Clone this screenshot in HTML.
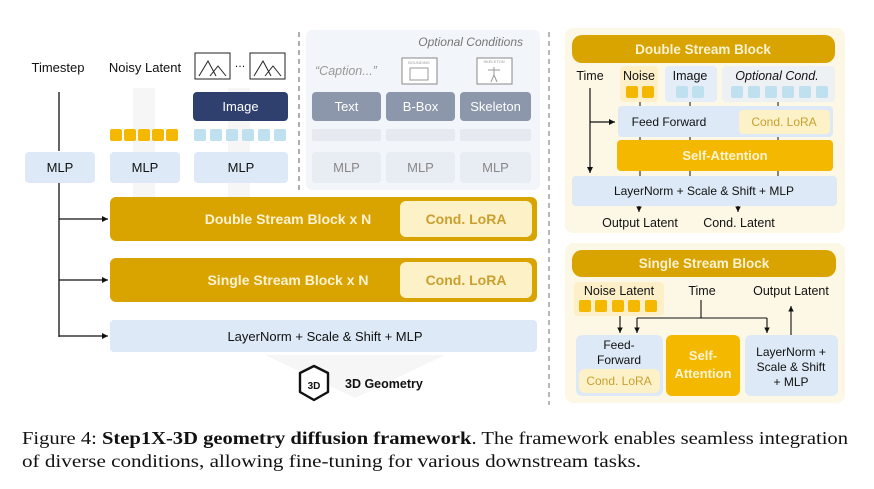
<!DOCTYPE html>
<html><head><meta charset="utf-8"><style>
html,body{margin:0;padding:0;background:#fff;}
svg{display:block;}
text{font-family:"Liberation Sans",sans-serif;}
text.cap{font-family:"Liberation Serif",serif;}
</style></head><body>
<svg width="874" height="489" viewBox="0 0 874 489" xmlns="http://www.w3.org/2000/svg">
<defs>
<marker id="ah" markerWidth="6" markerHeight="6" refX="5" refY="3" orient="auto"><path d="M0,0.5 L5,3 L0,5.5z" fill="#111"/></marker>
</defs>
<!-- faint background arrows -->
<g fill="#f6f6f6">
<rect x="133" y="88" width="22" height="110"/><rect x="228" y="88" width="22" height="110"/>
<path d="M265,355 L445,355 L355,398 z"/>
</g>
<!-- optional conditions panel -->
<rect x="306" y="30" width="234" height="160" rx="6" fill="#f2f5f9"/>
<text x="523" y="46" font-size="12" font-style="italic" fill="#777" text-anchor="end">Optional Conditions</text>
<line x1="299" y1="32" x2="299" y2="190" stroke="#777" stroke-width="1.2" stroke-dasharray="5,4"/>
<line x1="549" y1="32" x2="549" y2="405" stroke="#888" stroke-width="1.2" stroke-dasharray="5,4"/>

<!-- top labels -->
<text x="58" y="72" font-size="13" text-anchor="middle" fill="#111">Timestep</text>
<text x="145" y="72" font-size="13" text-anchor="middle" fill="#111">Noisy Latent</text>
<g fill="#fff" stroke="#222" stroke-width="1">
<rect x="195" y="53" width="35" height="26"/><rect x="250" y="53" width="35" height="26"/>
</g>
<path d="M199,76 L208,61 L216,76 M210,76 L218,66 L226,76" fill="none" stroke="#222"/>
<path d="M254,76 L263,61 L271,76 M265,76 L273,66 L281,76" fill="none" stroke="#222"/>
<text x="240" y="67" font-size="11" text-anchor="middle">…</text>
<text x="315" y="75" font-size="12.5" font-style="italic" fill="#999">“Caption...”</text>
<rect x="402" y="58" width="35" height="26" fill="#fff" stroke="#888"/>
<rect x="410" y="68" width="18" height="12" fill="none" stroke="#999"/>
<text x="419" y="64" font-size="4" text-anchor="middle" fill="#999">BOUNDING</text>
<rect x="477" y="58" width="35" height="26" fill="#fff" stroke="#888"/>
<path d="M494,67 L494,75 L491,82 M494,75 L497,82 M488,70 L500,70" stroke="#999" fill="none"/>
<text x="494" y="63" font-size="4" text-anchor="middle" fill="#999">SKELETON</text>

<!-- condition boxes -->
<rect x="193" y="92" width="95" height="29" rx="4" fill="#2f3f6e"/>
<text x="240.5" y="111" font-size="13" text-anchor="middle" fill="#fff">Image</text>
<rect x="312" y="92" width="69" height="29" rx="4" fill="#8d97ab"/>
<text x="346.5" y="111" font-size="13" text-anchor="middle" fill="#fff">Text</text>
<rect x="386" y="92" width="69" height="29" rx="4" fill="#8d97ab"/>
<text x="420.5" y="111" font-size="13" text-anchor="middle" fill="#fff">B-Box</text>
<rect x="460" y="92" width="71" height="29" rx="4" fill="#8d97ab"/>
<text x="495.5" y="111" font-size="13" text-anchor="middle" fill="#fff">Skeleton</text>

<!-- tokens -->
<g fill="#f5b800">
<rect x="110" y="129" width="12" height="12" rx="2"/><rect x="124" y="129" width="12" height="12" rx="2"/><rect x="138" y="129" width="12" height="12" rx="2"/><rect x="152" y="129" width="12" height="12" rx="2"/><rect x="166" y="129" width="12" height="12" rx="2"/>
</g>
<g fill="#bfe0ee">
<rect x="194" y="129" width="12" height="12" rx="2"/><rect x="210" y="129" width="12" height="12" rx="2"/><rect x="226" y="129" width="12" height="12" rx="2"/><rect x="242" y="129" width="12" height="12" rx="2"/><rect x="258" y="129" width="12" height="12" rx="2"/><rect x="274" y="129" width="12" height="12" rx="2"/>
</g>
<g fill="#e6eaf0">
<rect x="312" y="129" width="69" height="12" rx="2"/><rect x="386" y="129" width="69" height="12" rx="2"/><rect x="460" y="129" width="71" height="12" rx="2"/>
</g>

<!-- MLPs -->
<g fill="#dde9f6">
<rect x="25" y="152" width="70" height="31" rx="4"/><rect x="110" y="152" width="70" height="31" rx="4"/><rect x="194" y="152" width="94" height="31" rx="4"/>
</g>
<g fill="#e8edf3">
<rect x="312" y="152" width="69" height="31" rx="4"/><rect x="386" y="152" width="69" height="31" rx="4"/><rect x="460" y="152" width="71" height="31" rx="4"/>
</g>
<g font-size="13" text-anchor="middle">
<text x="60" y="172" fill="#111">MLP</text><text x="145" y="172" fill="#111">MLP</text><text x="241" y="172" fill="#111">MLP</text>
<text x="346.5" y="172" fill="#888">MLP</text><text x="420.5" y="172" fill="#888">MLP</text><text x="495.5" y="172" fill="#888">MLP</text>
</g>

<!-- timestep line -->
<line x1="59" y1="92" x2="59" y2="151" stroke="#111" stroke-width="1.3"/>
<line x1="59" y1="183" x2="59" y2="337" stroke="#111" stroke-width="1.3"/>
<line x1="59" y1="219" x2="108" y2="219" stroke="#111" stroke-width="1.2" marker-end="url(#ah)"/>
<line x1="59" y1="280" x2="108" y2="280" stroke="#111" stroke-width="1.2" marker-end="url(#ah)"/>
<line x1="59" y1="336" x2="108" y2="336" stroke="#111" stroke-width="1.2" marker-end="url(#ah)"/>

<!-- main blocks -->
<rect x="110" y="197" width="427" height="44" rx="6" fill="#d9a300"/>
<rect x="400" y="201" width="132" height="36" rx="6" fill="#fdf1c8"/>
<text x="288" y="224" font-size="14" font-weight="bold" text-anchor="middle" fill="#fcf3d4">Double Stream Block  x  N</text>
<text x="466" y="224" font-size="14" font-weight="bold" text-anchor="middle" fill="#c9a030">Cond. LoRA</text>
<rect x="110" y="258" width="427" height="44" rx="6" fill="#d9a300"/>
<rect x="400" y="262" width="132" height="36" rx="6" fill="#fdf1c8"/>
<text x="288" y="285" font-size="14" font-weight="bold" text-anchor="middle" fill="#fcf3d4">Single Stream Block  x  N</text>
<text x="466" y="285" font-size="14" font-weight="bold" text-anchor="middle" fill="#c9a030">Cond. LoRA</text>
<rect x="110" y="320" width="427" height="32" rx="4" fill="#dde9f6"/>
<text x="325" y="341" font-size="13" text-anchor="middle" fill="#111">LayerNorm + Scale &amp; Shift + MLP</text>

<!-- 3D geometry -->
<path d="M314,366 L328,373 L328,392 L314,400 L300,392 L300,373 z" fill="#fff" stroke="#111" stroke-width="2.4" stroke-linejoin="round"/>
<text x="314" y="389" font-size="10" font-weight="bold" text-anchor="middle" fill="#111">3D</text>
<text x="345" y="388" font-size="12.5" font-weight="bold" fill="#111">3D Geometry</text>

<!-- right top panel -->
<rect x="565" y="28" width="280" height="205" rx="8" fill="#fdf8e6"/>
<rect x="572" y="35" width="263" height="28" rx="10" fill="#d9a300"/>
<text x="703" y="54" font-size="13.5" font-weight="bold" text-anchor="middle" fill="#fcf3d4">Double Stream Block</text>
<text x="590" y="80" font-size="12.5" text-anchor="middle" fill="#111">Time</text>
<rect x="620" y="66" width="38" height="36" rx="4" fill="#fdf0c8"/>
<rect x="665" y="66" width="52" height="36" rx="4" fill="#e5eef8"/>
<rect x="722" y="66" width="113" height="36" rx="4" fill="#eef1f4"/>
<text x="639" y="80" font-size="12.5" text-anchor="middle" fill="#111">Noise</text>
<text x="690" y="80" font-size="12.5" text-anchor="middle" fill="#111">Image</text>
<text x="777" y="80" font-size="12.5" font-style="italic" text-anchor="middle" fill="#111">Optional Cond.</text>
<rect x="626" y="86" width="12" height="12" rx="2" fill="#f5b800"/><rect x="642" y="86" width="12" height="12" rx="2" fill="#f5b800"/>
<rect x="676" y="86" width="12" height="12" rx="2" fill="#bfe0ee"/><rect x="692" y="86" width="12" height="12" rx="2" fill="#bfe0ee"/>
<g fill="#bfe0ee"><rect x="731" y="86" width="12" height="12" rx="2"/><rect x="748" y="86" width="12" height="12" rx="2"/><rect x="765" y="86" width="12" height="12" rx="2"/><rect x="782" y="86" width="12" height="12" rx="2"/><rect x="799" y="86" width="12" height="12" rx="2"/><rect x="816" y="86" width="12" height="12" rx="2"/></g>
<rect x="618" y="106" width="215" height="31" rx="4" fill="#dde9f6"/>
<rect x="739" y="110" width="91" height="24" rx="4" fill="#fdf1c8"/>
<text x="669" y="126" font-size="12" text-anchor="middle" fill="#111">Feed Forward</text>
<text x="784" y="126" font-size="12" text-anchor="middle" fill="#c9a030">Cond. LoRA</text>
<rect x="617" y="140" width="216" height="31" rx="4" fill="#f5b800"/>
<text x="725" y="160" font-size="13" font-weight="bold" text-anchor="middle" fill="#fdf4d4">Self-Attention</text>
<rect x="572" y="176" width="265" height="30" rx="4" fill="#dde9f6"/>
<text x="704" y="195" font-size="12" text-anchor="middle" fill="#111">LayerNorm + Scale &amp; Shift + MLP</text>
<g stroke="#111" stroke-width="1">
<line x1="640" y1="102" x2="640" y2="106"/><line x1="690" y1="102" x2="690" y2="106"/><line x1="778" y1="102" x2="778" y2="106"/>
<line x1="640" y1="137" x2="640" y2="140"/><line x1="690" y1="137" x2="690" y2="140"/><line x1="778" y1="137" x2="778" y2="140"/>
<line x1="640" y1="171" x2="640" y2="176"/><line x1="690" y1="171" x2="690" y2="176"/><line x1="778" y1="171" x2="778" y2="176"/>
</g>
<line x1="590" y1="88" x2="590" y2="173" stroke="#111" stroke-width="1.2" marker-end="url(#ah)"/>
<line x1="590" y1="122" x2="615" y2="122" stroke="#111" stroke-width="1.2" marker-end="url(#ah)"/>
<line x1="639" y1="206" x2="639" y2="212" stroke="#111" stroke-width="1.1" marker-end="url(#ah)"/>
<line x1="738" y1="206" x2="738" y2="212" stroke="#111" stroke-width="1.1" marker-end="url(#ah)"/>
<text x="640" y="227" font-size="12.5" text-anchor="middle" fill="#111">Output Latent</text>
<text x="739" y="227" font-size="12.5" text-anchor="middle" fill="#111">Cond. Latent</text>

<!-- right bottom panel -->
<rect x="565" y="243" width="280" height="160" rx="8" fill="#fdf8e6"/>
<rect x="572" y="250" width="264" height="27" rx="10" fill="#d9a300"/>
<text x="704" y="268" font-size="13.5" font-weight="bold" text-anchor="middle" fill="#fcf3d4">Single Stream Block</text>
<rect x="574" y="282" width="90" height="34" rx="4" fill="#fdf0c8"/>
<text x="619" y="295" font-size="12.5" text-anchor="middle" fill="#111">Noise Latent</text>
<text x="702" y="295" font-size="12.5" text-anchor="middle" fill="#111">Time</text>
<text x="791" y="295" font-size="12.5" text-anchor="middle" fill="#111">Output Latent</text>
<g fill="#f5b800"><rect x="579" y="300" width="12" height="12" rx="2"/><rect x="595" y="300" width="12" height="12" rx="2"/><rect x="612" y="300" width="12" height="12" rx="2"/><rect x="628" y="300" width="12" height="12" rx="2"/><rect x="645" y="300" width="12" height="12" rx="2"/></g>
<rect x="576" y="335" width="87" height="61" rx="6" fill="#dde9f6"/>
<rect x="579" y="369" width="81" height="24" rx="6" fill="#fdf1c8"/>
<text x="619" y="349" font-size="12" text-anchor="middle" fill="#111">Feed-</text>
<text x="619" y="364" font-size="12" text-anchor="middle" fill="#111">Forward</text>
<text x="619" y="385" font-size="12" text-anchor="middle" fill="#c9a030">Cond. LoRA</text>
<rect x="666" y="335" width="74" height="61" rx="6" fill="#f5b800"/>
<text x="703" y="360" font-size="13" font-weight="bold" text-anchor="middle" fill="#fdf4d4">Self-</text>
<text x="703" y="378" font-size="13" font-weight="bold" text-anchor="middle" fill="#fdf4d4">Attention</text>
<rect x="745" y="335" width="93" height="61" rx="6" fill="#dde9f6"/>
<text x="791" y="356" font-size="12" text-anchor="middle" fill="#111">LayerNorm +</text>
<text x="791" y="371" font-size="12" text-anchor="middle" fill="#111">Scale &amp; Shift</text>
<text x="791" y="386" font-size="12" text-anchor="middle" fill="#111">+ MLP</text>
<line x1="620" y1="316" x2="620" y2="333" stroke="#111" stroke-width="1.1" marker-end="url(#ah)"/>
<path d="M701,300 L701,318 M637,318 L767,318" fill="none" stroke="#111" stroke-width="1.1"/>
<line x1="637" y1="318" x2="637" y2="333" stroke="#111" stroke-width="1.1" marker-end="url(#ah)"/>
<line x1="767" y1="318" x2="767" y2="333" stroke="#111" stroke-width="1.1" marker-end="url(#ah)"/>
<line x1="791" y1="335" x2="791" y2="306" stroke="#111" stroke-width="1.1" marker-end="url(#ah)"/>

<!-- caption -->
<text class="cap" x="22" y="444" font-size="18" fill="#111" textLength="826" lengthAdjust="spacingAndGlyphs">Figure 4:  <tspan font-weight="bold">Step1X-3D geometry diffusion framework</tspan>. The framework enables seamless integration</text>
<text class="cap" x="22" y="467" font-size="18" fill="#111" textLength="619" lengthAdjust="spacingAndGlyphs">of diverse conditions, allowing fine-tuning for various downstream tasks.</text>
</svg>
</body></html>
